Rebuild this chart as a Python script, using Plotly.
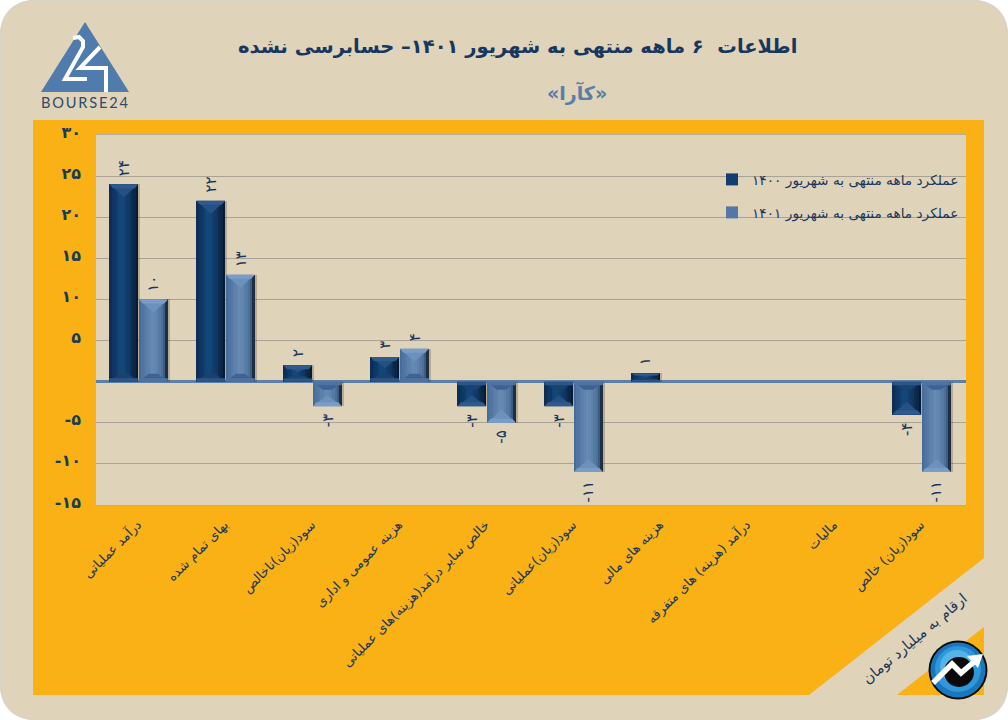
import plotly.graph_objects as go

# ---------- data ----------
categories = ["درآمد عملیاتی", "بهای تمام شده", "سود(زیان)ناخالص", "هزینه عمومی و اداری",
              "خالص سایر درآمد(هزینه)های عملیاتی", "سود(زیان)عملیاتی", "هزینه های مالی",
              "درآمد (هزینه) های متفرقه", "مالیات", "سود(زیان) خالص"]
series_1400 = [24, 22, 2, 3, -3, -3, 1, 0, 0, -4]
series_1401 = [10, 13, -3, 4, -5, -11, 0, 0, 0, -11]
name_1400 = "عملکرد ماهه منتهی به شهریور ۱۴۰۰"
name_1401 = "عملکرد ماهه منتهی به شهریور ۱۴۰۱"
y_ticks = [30, 25, 20, 15, 10, 5, 0, -5, -10, -15]
title_text = "اطلاعات  ۶ ماهه منتهی به شهریور ۱۴۰۱– حسابرسی نشده"
subtitle_text = "«کآرا»"
note_text = "ارقام به میلیارد تومان"
logo_text = "B\u2009O\u2009U\u2009R\u2009S\u2009E\u20092\u20094"

# ---------- style ----------
W, H = 1008, 720
PANEL = "#dfd3b9"
ORANGE = "#f9b116"
NAVY = "#17375e"
FONT = "DejaVu Sans"
PLOT_L, PLOT_R, PLOT_T, PLOT_B = 96, 966, 135, 505
UX = (PLOT_R - PLOT_L) / 10          # px per category
UY = (PLOT_B - PLOT_T) / 45          # px per value unit
BAR_W = 0.33
styles = [
    dict(vals=series_1400, name=name_1400, off=-0.345, base="#123f70", legend="legend", legend_y=164,
         ramp=["#0c2d55", "#0e3462", "#0f3866", "#124174", "#134679", "#134679", "#124174", "#103a68",
               "#0f3560", "#0c2c50", "#0a2745", "#071a30"],
         tip="#2f5b8c", tip2="#255083", foot="#2c5687", foot2="#1a426f"),
    dict(vals=series_1401, name=name_1401, off=-0.005, base="#5378a5", legend="legend2", legend_y=197,
         ramp=["#466c99", "#4f74a1", "#5479a5", "#5c80ab", "#6285af", "#668ab3", "#6487b0", "#5f82ac",
               "#557aa4", "#4d6f99", "#3d5e82", "#1e2f44"],
         tip="#7a9dc7", tip2="#6c91bd", foot="#4e73a0", foot2="#3f6390"),
]


def fa(n):
    s = str(abs(n)).translate(str.maketrans("0123456789", "۰۱۲۳۴۵۶۷۸۹"))
    return ("-" + s) if n < 0 else s


def px(x):
    return x / W


def py(y):
    return 1 - y / H


def path(points, close=True):
    d = "M " + " L ".join(f"{px(x):.5f},{py(y):.5f}" for x, y in points)
    return d + (" Z" if close else "")


def circle(cx, cy, r, fill, line=None, lw=0):
    return dict(type="circle", xref="paper", yref="paper", layer="above",
                x0=px(cx - r), x1=px(cx + r), y0=py(cy + r), y1=py(cy - r),
                fillcolor=fill, line=dict(color=line or fill, width=lw))


def poly(points, fill, layer="below"):
    return dict(type="path", xref="paper", yref="paper", layer=layer, path=path(points),
                fillcolor=fill, line=dict(width=0))


def stroke(points, color, width, layer="above"):
    return dict(type="path", xref="paper", yref="paper", layer=layer, path=path(points, close=False),
                line=dict(color=color, width=width))


# rounded panel
r = 40
panel_path = (f"M {px(r)},{py(0)} L {px(W - r)},{py(0)} Q {px(W)},{py(0)} {px(W)},{py(r)} "
              f"L {px(W)},{py(H - r)} Q {px(W)},{py(H)} {px(W - r)},{py(H)} "
              f"L {px(r)},{py(H)} Q {px(0)},{py(H)} {px(0)},{py(H - r)} "
              f"L {px(0)},{py(r)} Q {px(0)},{py(0)} {px(r)},{py(0)} Z")

shapes = [
    dict(type="path", xref="paper", yref="paper", layer="below", path=panel_path,
         fillcolor=PANEL, line=dict(color="#d6d3cb", width=1.5)),
    poly([(33, 120), (984, 120), (984, 558), (809, 695), (33, 695)], ORANGE),
    poly([(984, 627), (984, 695), (897, 695)], ORANGE),
    poly([(PLOT_L, PLOT_T), (PLOT_R, PLOT_T), (PLOT_R, PLOT_B), (PLOT_L, PLOT_B)], PANEL),
    # logo triangle and numerals
    poly([(85, 22), (129, 92), (41, 92)], "#4f7cac", "above"),
    stroke([(73, 38), (79, 37), (83, 41), (83, 47), (65, 79), (87, 79)], "white", 4),
    stroke([(100, 47), (80, 68), (106, 68), (106, 92)], "white", 4),
    # bottom-right badge
    circle(958, 670, 29.5, "#0b0b0b"),
    circle(958, 670, 27.5, "#1b77bd"),
    circle(958, 669, 23, "#2e97dc"),
    circle(957, 667, 17, "#54b4ea"),
    circle(959, 672, 15, "#0a0a0a"),
    stroke([(933, 683), (952, 664), (961, 673), (975, 661)], "white", 5.5),
    poly([(983, 654), (967, 656), (978, 668)], "white", "above"),
]

traces = []
# shadow + legend base
for s in styles:
    x = [i + s["off"] + BAR_W / 2 for i in range(len(categories))]
    traces.append(go.Bar(x=[i + s["off"] + 0.012 for i in range(len(categories))], y=s["vals"],
                         width=BAR_W + 0.012, offset=0, marker=dict(color="rgba(40,30,15,0.22)", line=dict(width=0)),
                         hoverinfo="skip", showlegend=False))
    traces.append(go.Bar(x=x, y=s["vals"], width=BAR_W, name=s["name"], legend=s["legend"],
                         marker=dict(color=s["base"], line=dict(width=0)), showlegend=True))
    # horizontal shading of the bar
    n = len(s["ramp"])
    for k, col in enumerate(s["ramp"]):
        traces.append(go.Bar(x=[i + s["off"] + BAR_W * k / n for i in range(len(categories))], y=s["vals"],
                             width=BAR_W / n + 0.002, offset=0, marker=dict(color=col, line=dict(width=0)),
                             hoverinfo="skip", showlegend=False))
    # bevels, computed from each value
    tx, ty, t2x, t2y, fx, fy, f2x, f2y = [], [], [], [], [], [], [], []
    for i, v in enumerate(s["vals"]):
        if v == 0:
            continue
        x0, x1 = i + s["off"], i + s["off"] + BAR_W
        xc = (x0 + x1) / 2
        sg = 1 if v > 0 else -1
        hpx = abs(v) * UY
        # the face at the value end of the bar
        tip_h = min(13, hpx * 0.45)
        tx += [x0, x1, xc, x0, None]
        ty += [v, v, v - sg * tip_h / UY, v, None]
        bw = 3.5 / UX
        thin = min(4, hpx * 0.25)
        t2x += [x0, x1, x1 - bw, x0 + bw, x0, None]
        t2y += [v, v, v - sg * thin / UY, v - sg * thin / UY, v, None]
        # the face next to the axis
        foot_h = min(8, hpx * 0.35)
        d = foot_h / UX * 1.2
        fx += [x0, x1, x1 - d, x0 + d, x0, None]
        fy += [0, 0, sg * foot_h / UY, sg * foot_h / UY, 0, None]
        thin2 = min(3.5, hpx * 0.2)
        f2x += [x0, x1, x1, x0, x0, None]
        f2y += [0, 0, sg * thin2 / UY, sg * thin2 / UY, 0, None]
    for xs, ys, col in [(fx, fy, s["foot2"]), (f2x, f2y, s["foot"]), (tx, ty, s["tip2"]), (t2x, t2y, s["tip"])]:
        traces.append(go.Scatter(x=xs, y=ys, mode="lines", fill="toself", fillcolor=col, line=dict(width=0),
                                 hoverinfo="skip", showlegend=False))

fig = go.Figure(traces)

annotations = [
    dict(text=f"<b>{title_text}</b>", x=px(517), y=py(46), font=dict(size=19.5, color=NAVY)),
    dict(text=f"<b>{subtitle_text}</b>", x=px(577), y=py(93), font=dict(size=19, color="#5a7ea8")),
    dict(text=note_text, x=px(914), y=py(639), textangle=-40, font=dict(size=14.6, color=NAVY)),
    dict(text=logo_text, x=px(85), y=py(103), font=dict(size=14.6, color="#2f4b6b", family="Lato")),
]
annotations = [dict(a, xref="paper", yref="paper", showarrow=False, xanchor="center", yanchor="middle",
                    font=dict(dict(family=FONT), **a["font"])) for a in annotations]
for s in styles:
    for i, v in enumerate(s["vals"]):
        if v == 0:
            continue
        annotations.append(dict(x=i + s["off"] + BAR_W / 2, y=v, xref="x", yref="y", text=fa(v),
                                showarrow=False, textangle=-90, yanchor="bottom" if v > 0 else "top",
                                xanchor="center", yshift=6 if v > 0 else -6,
                                font=dict(family=FONT, size=15, color=NAVY)))


def legend_at(y):
    return dict(x=px(712), y=py(y), xanchor="left", yanchor="top", bgcolor="rgba(0,0,0,0)",
                font=dict(family=FONT, size=13.7, color=NAVY), itemwidth=30)


fig.update_layout(
    width=W, height=H, autosize=False,
    margin=dict(l=0, r=0, t=0, b=0, autoexpand=False),
    paper_bgcolor="white", plot_bgcolor=PANEL,
    barmode="overlay", bargap=0, showlegend=True,
    shapes=shapes, annotations=annotations, hovermode="closest",
    font=dict(family=FONT, color=NAVY),
    xaxis=dict(domain=[px(PLOT_L), px(PLOT_R)], range=[-0.5, 9.5], tickmode="array",
               tickvals=list(range(len(categories))), ticktext=categories, tickangle=-45,
               tickfont=dict(family=FONT, size=13, color=NAVY), showgrid=False, zeroline=False,
               ticks="", ticklabelstandoff=6, ticklabelshift=-2, showline=True, mirror=True,
               linecolor="#b5ad9c", linewidth=1, automargin=False),
    yaxis=dict(domain=[py(PLOT_B), py(PLOT_T)], range=[-15, 30], tickmode="array", tickvals=y_ticks,
               ticktext=[f"<b>{fa(v)}</b>" if v else "" for v in y_ticks],
               tickfont=dict(family=FONT, size=16, color="#1b3a57"), showgrid=True,
               gridcolor="#aaa294", gridwidth=1, zeroline=True, zerolinecolor="#5d7fa8", zerolinewidth=3,
               ticks="", ticklabelstandoff=14, ticklabelshift=-3, automargin=False),
    legend=legend_at(styles[0]["legend_y"]),
    legend2=legend_at(styles[1]["legend_y"]),
)
fig.write_html("out.html", config={"displayModeBar": False},
               post_script="document.body.style.margin='0';")
